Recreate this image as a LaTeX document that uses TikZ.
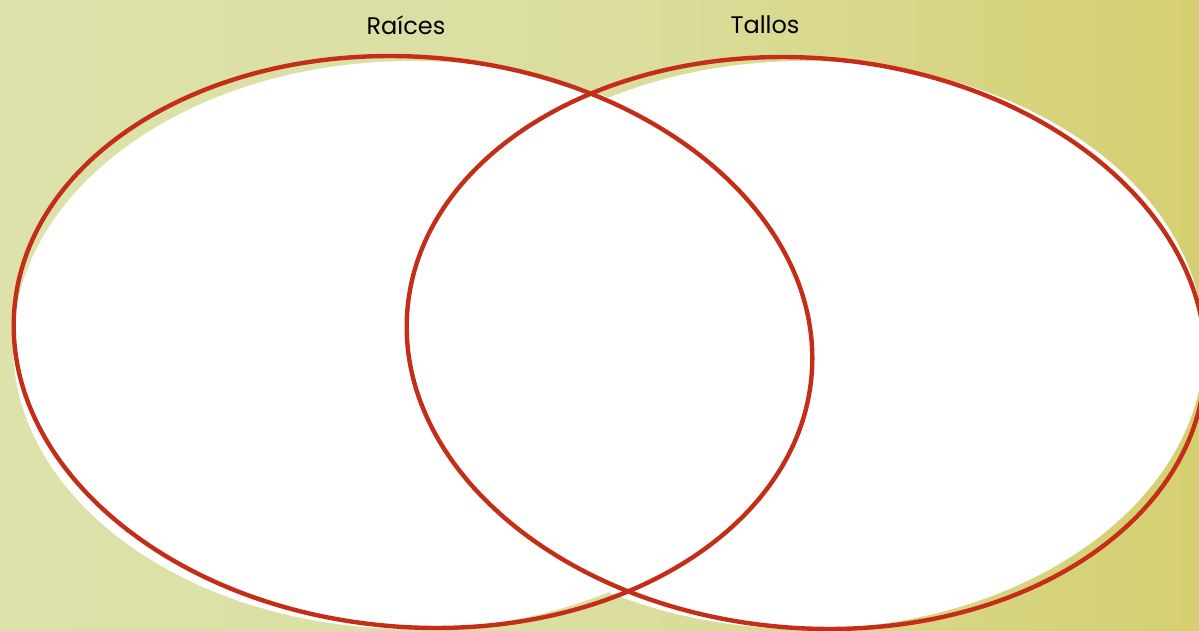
\documentclass[tikz,border=0pt]{standalone}
\usepackage{fontspec}
\setmainfont{Poppins}
\definecolor{bgL}{RGB}{220,226,170}
\definecolor{bgM}{RGB}{219,222,160}
\definecolor{bgR}{RGB}{213,207,112}
\definecolor{vennred}{RGB}{196,46,24}
\tikzset{
  whitefill/.style={fill=white, draw=none},
  redring/.style={draw=vennred, line width=4.4pt},
  setlabel/.style={font=\fontsize{24}{27}\selectfont, text=black, inner sep=0pt}
}
\begin{document}
\begin{tikzpicture}[x=1pt,y=1pt]
  \useasboundingbox (0,0) rectangle (1199,630);
  \shade[left color=bgL, right color=bgR, middle color=bgM] (0,0) rectangle (1199,630);
  % white fills
  \fill[whitefill] (412,285) ellipse [x radius=399, y radius=284];
  \fill[whitefill] (805,285) ellipse [x radius=399, y radius=284];
  % red outlines
  \draw[redring, rotate around={-4.8:(413,288)}] (413,288) ellipse [x radius=400, y radius=285];
  \draw[redring, rotate around={-4.8:(806,287)}] (806,287) ellipse [x radius=400, y radius=285];
  % labels
  \node[setlabel] (raices) at (406,605) {Raíces};
  \node[setlabel] (tallos) at (765,605) {Tallos};
\end{tikzpicture}
\end{document}
